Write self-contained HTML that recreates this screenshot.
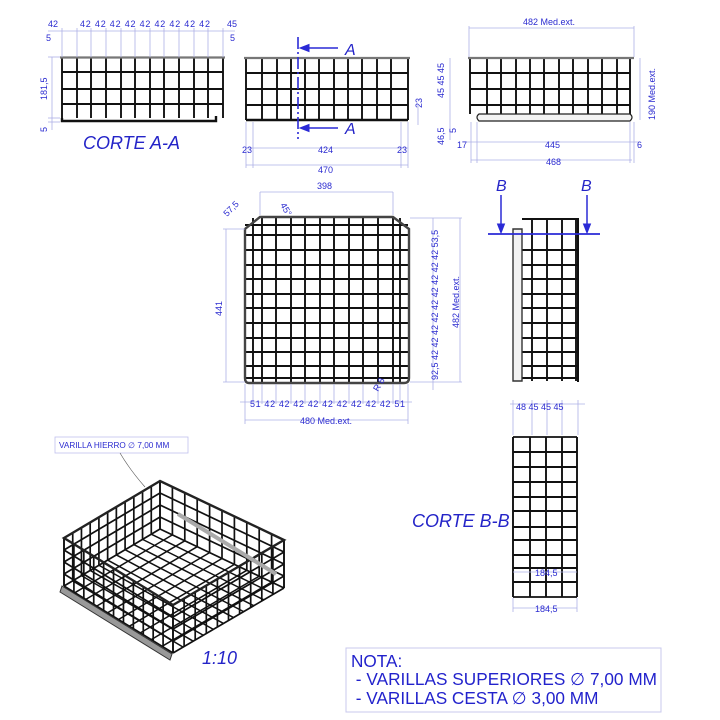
<!DOCTYPE html>
<html><head><meta charset="utf-8"><style>
html,body{margin:0;padding:0;background:#fff}
svg{display:block}
text{font-family:"Liberation Sans",sans-serif;fill:#2b2bd0}
.d{font-size:9px}
.big{font-size:18px;font-style:italic;fill:#2424c8}
.dl{stroke:#aeb0e6;stroke-width:0.8;fill:none}
</style></head><body>
<svg id="s" width="720" height="720" viewBox="0 0 720 720" xmlns="http://www.w3.org/2000/svg">
<g id="g" stroke="#111" fill="none" stroke-width="1.9"></g>
<g id="dims" class="dl"></g>
<text class="d" x="48" y="27">42</text>
<text class="d" x="80" y="27" textLength="130">42 42 42 42 42 42 42 42 42</text>
<text class="d" x="227" y="27">45</text>
<text class="d" x="46" y="41">5</text>
<text class="d" x="230" y="41">5</text>
<text class="d" transform="translate(47,100) rotate(-90)">181,5</text>
<text class="d" transform="translate(47,132) rotate(-90)">5</text>
<text class="big" x="83" y="149">CORTE A-A</text>
<text class="big" x="345" y="55" style="font-size:16px">A</text>
<text class="big" x="345" y="134" style="font-size:16px">A</text>
<text class="d" transform="translate(422,108) rotate(-90)">23</text>
<text class="d" x="242" y="153">23</text>
<text class="d" x="318" y="153">424</text>
<text class="d" x="397" y="153">23</text>
<text class="d" x="318" y="173">470</text>
<text class="d" x="523" y="25">482  Med.ext.</text>
<text class="d" transform="translate(444,98) rotate(-90)">45  45  45</text>
<text class="d" transform="translate(444,145) rotate(-90)">46,5</text>
<text class="d" transform="translate(456,133) rotate(-90)">5</text>
<text class="d" transform="translate(655,120) rotate(-90)">190  Med.ext.</text>
<text class="d" x="457" y="148">17</text>
<text class="d" x="545" y="148">445</text>
<text class="d" x="637" y="148">6</text>
<text class="d" x="546" y="165">468</text>
<text class="d" x="317" y="189">398</text>
<text class="d" transform="translate(227,217) rotate(-45)">57,5</text>
<text class="d" transform="translate(280,205) rotate(60)">45°</text>
<text class="d" transform="translate(222,316) rotate(-90)">441</text>
<text class="d" transform="translate(438,380) rotate(-90)">92,5   42 42 42 42 42 42 42 42 42 53,5</text>
<text class="d" transform="translate(459,328) rotate(-90)">482  Med.ext.</text>
<text class="d" transform="translate(378,392) rotate(-60)">R 8</text>
<text class="d" x="250" y="407" textLength="155">51  42 42 42 42 42 42 42 42 42  51</text>
<text class="d" x="300" y="424">480  Med.ext.</text>
<text class="big" x="496" y="191" style="font-size:16px">B</text>
<text class="big" x="581" y="191" style="font-size:16px">B</text>
<text class="d" x="516" y="410">48  45  45  45</text>
<text class="big" x="412" y="527">CORTE B-B</text>
<text class="d" x="535" y="576">184,5</text>
<text class="d" x="535" y="612">184,5</text>
<rect x="55" y="437" width="133" height="16" fill="none" stroke="#c0c0ee" stroke-width="0.8"/>
<text x="59" y="448" style="font-size:8.2px">VARILLA HIERRO ∅ 7,00 MM</text>
<path d="M120 453 Q130 470 145 487" stroke="#555" stroke-width="0.6" fill="none"/>
<text class="big" x="202" y="664">1:10</text>
<rect x="346" y="648" width="315" height="64" fill="none" stroke="#c8c8ee" stroke-width="1"/>
<text x="351" y="667" style="font-size:17.2px;fill:#2222cc">NOTA:</text>
<text x="351" y="685" style="font-size:17.2px;fill:#2222cc" textLength="306">&#160;- VARILLAS SUPERIORES ∅ 7,00 MM</text>
<text x="351" y="704" style="font-size:17.2px;fill:#2222cc">&#160;- VARILLAS CESTA ∅ 3,00 MM</text>
</svg>
<script>
const NS="http://www.w3.org/2000/svg";
const g=document.getElementById('g'), dm=document.getElementById('dims');
function L(x1,y1,x2,y2,w,c,p,extra){const e=document.createElementNS(NS,'line');e.setAttribute('x1',x1);e.setAttribute('y1',y1);e.setAttribute('x2',x2);e.setAttribute('y2',y2);if(w)e.setAttribute('stroke-width',w);if(c)e.setAttribute('stroke',c);if(extra)for(const k in extra)e.setAttribute(k,extra[k]);(p||g).appendChild(e);}
function P(d,w,c,f,p){const e=document.createElementNS(NS,'path');e.setAttribute('d',d);if(w)e.setAttribute('stroke-width',w);if(c)e.setAttribute('stroke',c);if(f)e.setAttribute('fill',f);(p||g).appendChild(e);}
function grid(xs,ys,x0,x1,y0,y1){xs.forEach(x=>L(x,y0,x,y1));ys.forEach(y=>L(x0,y,x1,y));}
grid([62,77,91,106,121,135,150,164,179,194,208,223],[72,89,104],62,223,57,118);
L(60,57.5,225,57.5,2.2,'#777');P('M62 118 L62 121 L216 121 L216 116',2.4);
grid([246,262,277,291,305,319,334,348,362,377,391,408],[73,89,105],246,408,58,120);
L(244,58,410,58,2.2,'#777');L(246,120,408,120,2.4);
L(298,37,298,139,1.6,'#2a2ad6',null,{'stroke-dasharray':'12 3 2 3'});
L(338,48,306,48,1.6,'#2a2ad6');P('M300 48 L309 44.5 L309 51.5Z',1,'#2a2ad6','#2a2ad6');
L(338,128,306,128,1.6,'#2a2ad6');P('M300 128 L309 124.5 L309 131.5Z',1,'#2a2ad6','#2a2ad6');
grid([470,487,501,516,530,544,559,573,588,602,617,630],[73,89,105],470,630,58,114);
L(468,58,634,58,2.2,'#777');
P('M479 114 L630 114 Q634 117 630 121 L479 121 Q475 117 479 114Z',1.2,'#222','#f4f4f4');
(function(){const xs=[253,262,276,291,305,320,334,349,363,378,393,400];const ys=[225,235,250,265,279,294,308,323,338,352,366,378];
xs.forEach(x=>L(x,218,x,382));ys.forEach(y=>L(245,y,408,y));
P('M260 217 L393 217 L409 229 L409 378 Q409 383 404 383 L249 383 Q245 383 245 378 L245 229Z',2.4,'#444');})();
(function(){[532,547,562,576].forEach(x=>L(x,219,x,381));[219,250,265,279,294,308,323,338,352,366,378].forEach(y=>L(522,y,578,y));
P('M513 229 L522 229 L522 381 L513 381Z',1.4,'#333','#f2f2f2');L(578,218,578,382,2);
L(488,234,600,234,1.8,'#2a2ad6');
L(501,195,501,226,1.5,'#2a2ad6');P('M501 233 L497.5 224 L504.5 224Z',1,'#2a2ad6','#2a2ad6');
L(587,195,587,226,1.5,'#2a2ad6');P('M587 233 L583.5 224 L590.5 224Z',1,'#2a2ad6','#2a2ad6');})();
grid([513,530,546,562,577],[452,467,482,497,511,527,540,555,568,582],513,577,437,597);
L(513,437,577,437,1.8);L(513,597,577,597,1.8);
const D=(a,b,c,d)=>L(a,b,c,d,0.8,null,dm);
D(48,31,235,31);[62,77,91,106,121,135,150,164,179,194,208,223].forEach(x=>D(x,28,x,57));
D(52,57,52,130);D(48,57,60,57);D(48,118,60,118);D(48,122,60,122);
D(246,148,408,148);D(246,165,408,165);[246,253,401,408].forEach(x=>D(x,122,x,168));D(418,105,418,125);
D(469,28,634,28);D(469,26,469,57);D(634,26,634,57);D(640,58,640,120);D(450,58,450,140);
D(462,142,640,142);D(471,160,632,160);[471,477,630,634].forEach(x=>D(x,122,x,163));
D(260,192,393,192);D(260,192,260,215);D(393,192,393,215);
D(226,229,226,382);D(223,229,245,229);D(223,382,245,382);
D(433,218,433,390);D(460,218,460,382);D(410,218,462,218);D(410,382,462,382);
D(240,402,412,402);D(245,420,408,420);[245,253,262,276,291,305,320,334,349,363,378,393,400,408].forEach(x=>D(x,384,x,404));D(245,404,245,424);D(408,404,408,424);
D(510,404,585,404);[513,532,547,562,578].forEach(x=>D(x,400,x,435));
D(513,572,577,572);D(513,608,577,608);D(513,598,513,612);D(577,598,577,612);
(function(){const B=[160,481],Lf=[64,538],F=[173,605],R=[284,540],H=48;
const lerp=(p,q,t)=>[p[0]+(q[0]-p[0])*t,p[1]+(q[1]-p[1])*t];
function face(p,q,nv,nh,h,w){for(let i=0;i<=nv;i++){const a=lerp(p,q,i/nv);L(a[0],a[1],a[0],a[1]+h,w||1.7);}
for(let j=1;j<=nh;j++){const y=h*j/nh;L(p[0],p[1]+y,q[0],q[1]+y,1.7);}}
const FB=[B[0],B[1]+H],FL=[Lf[0],Lf[1]+H],FF=[F[0],F[1]+H],FR=[R[0],R[1]+H];
for(let i=1;i<11;i++){const a=lerp(FB,FL,i/11),b=lerp(FR,FF,i/11);L(a[0],a[1],b[0],b[1],1.5);}
for(let i=1;i<10;i++){const a=lerp(FB,FR,i/10),b=lerp(FL,FF,i/10);L(a[0],a[1],b[0],b[1],1.5);}
face(B,Lf,11,4,H);face(B,R,10,4,H);
face(Lf,F,11,4,H);face(F,R,10,4,H);
P(`M${B} L${Lf} L${F} L${R}Z`,2.4,'#222');
P('M60 592 L170 660 L172 654 L62 586Z',1,'#333','#999');
P('M178 514 L276 574',4,'#aaa');})();
</script>
</body></html>
